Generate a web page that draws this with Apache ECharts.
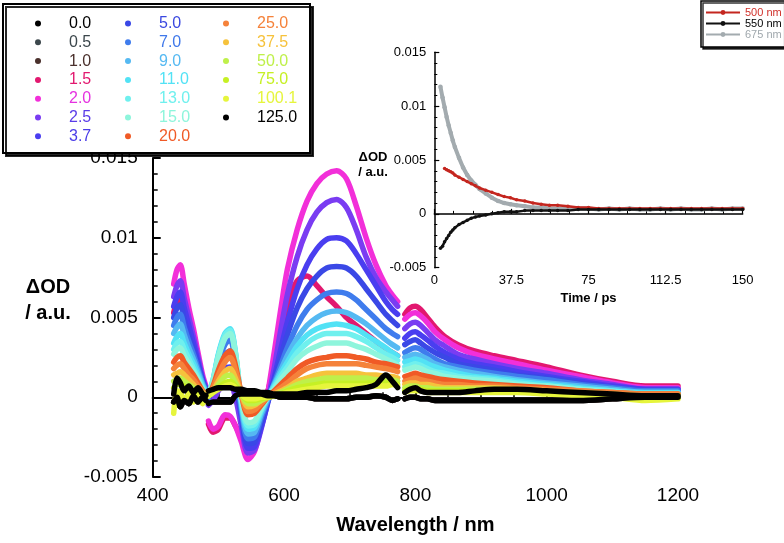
<!DOCTYPE html>
<html><head><meta charset="utf-8">
<script src="https://cdn.jsdelivr.net/npm/echarts@6/dist/echarts.min.js"></script>
<style>html,body{margin:0;padding:0;background:#fff}#c{width:784px;height:543px}</style>
</head><body><div id="c"></div>
<script>
// ---------- DATA ----------
const wavelengths = [432,437,442,448,455,462,469,476,481, 483,
  485,492,500,510,518,526,535,545,555,565,575,585,595,605,620,635,650,665,680,695,710,725,740,755,765,773, 778,
  784,792,800,808,818,830,845,865,890,920,955,1000,1050,1100,1150,1200];
const delays = ['0.0','0.5','1.0','1.5','2.0','2.5','3.7','5.0','7.0','9.0','11.0','13.0','15.0','20.0','25.0','37.5','50.0','75.0','100.1','125.0'];

const od_0_0 = [-0.0003,0.0000,-0.0006,-0.0002,-0.0004,0.0001,-0.0003,0.0000,-0.0002, null,
  -0.0004,-0.0003,-0.0003,-0.0003,-0.0003,0.0001,0.0002,0.0002,0.0002,0.0002,0.0001,0.0001,0.0000,0.0000,0.0000,0.0000,-0.0001,-0.0001,-0.0001,-0.0001,0.0000,0.0000,0.0001,0.0000,-0.0002,-0.0001, null,
  -0.0001,0.0000,0.0000,-0.0001,-0.0001,-0.0002,-0.0002,-0.0002,-0.0002,-0.0002,-0.0002,-0.0002,-0.0002,-0.0001,0.0000,0.0000];
const od_0_5 = [-0.0003,0.0000,-0.0006,-0.0002,-0.0004,0.0001,-0.0003,0.0000,-0.0002, null,
  -0.0004,-0.0003,-0.0003,-0.0003,-0.0003,0.0001,0.0002,0.0002,0.0002,0.0002,0.0001,0.0001,0.0000,0.0000,0.0000,0.0000,-0.0001,-0.0001,-0.0001,-0.0001,0.0000,0.0000,0.0001,0.0000,-0.0002,-0.0001, null,
  -0.0001,0.0000,0.0000,-0.0001,-0.0001,-0.0002,-0.0002,-0.0002,-0.0002,-0.0002,-0.0002,-0.0002,-0.0002,-0.0001,0.0000,0.0000];
const od_1_0 = [-0.0003,0.0000,-0.0006,-0.0002,-0.0004,0.0001,-0.0003,0.0000,-0.0002, null,
  -0.0004,-0.0003,-0.0003,-0.0003,-0.0003,0.0001,0.0002,0.0002,0.0002,0.0002,0.0001,0.0001,0.0000,0.0000,0.0000,0.0000,-0.0001,-0.0001,-0.0001,-0.0001,0.0000,0.0000,0.0001,0.0000,-0.0002,-0.0001, null,
  -0.0001,0.0000,0.0000,-0.0001,-0.0001,-0.0002,-0.0002,-0.0002,-0.0002,-0.0002,-0.0002,-0.0002,-0.0002,-0.0001,0.0000,0.0000];
const od_1_5 = [0.0053,0.0060,0.0062,0.0053,0.0042,0.0032,0.0021,0.0011,0.0005, null,
  -0.0017,-0.0022,-0.0020,-0.0013,-0.0013,-0.0018,-0.0025,-0.0030,-0.0025,-0.0012,0.0003,0.0020,0.0040,0.0058,0.0073,0.0076,0.0070,0.0063,0.0057,0.0050,0.0045,0.0040,0.0035,0.0030,0.0028,0.0026, null,
  0.0052,0.0056,0.0057,0.0055,0.0050,0.0044,0.0038,0.0033,0.0029,0.0026,0.0023,0.0019,0.0014,0.0010,0.0007,0.0007];
const od_2_0 = [0.0071,0.0080,0.0083,0.0071,0.0056,0.0043,0.0028,0.0014,0.0007, null,
  -0.0015,-0.0020,-0.0018,-0.0011,-0.0012,-0.0018,-0.0028,-0.0039,-0.0034,-0.0018,0.0002,0.0028,0.0055,0.0080,0.0105,0.0123,0.0134,0.0140,0.0142,0.0137,0.0120,0.0100,0.0083,0.0070,0.0064,0.0060, null,
  0.0049,0.0052,0.0053,0.0051,0.0047,0.0041,0.0036,0.0031,0.0027,0.0024,0.0021,0.0017,0.0013,0.0009,0.0006,0.0006];
const od_2_5 = [0.0063,0.0070,0.0073,0.0062,0.0050,0.0038,0.0025,0.0012,0.0006, null,
  -0.0005,-0.0002,0.0004,0.0008,0.0008,0.0000,-0.0018,-0.0035,-0.0033,-0.0020,-0.0003,0.0018,0.0042,0.0064,0.0088,0.0105,0.0116,0.0122,0.0124,0.0119,0.0105,0.0088,0.0075,0.0066,0.0061,0.0057, null,
  0.0043,0.0046,0.0047,0.0045,0.0041,0.0036,0.0032,0.0027,0.0024,0.0021,0.0018,0.0015,0.0011,0.0008,0.0005,0.0005];
const od_3_7 = [0.0057,0.0063,0.0066,0.0056,0.0045,0.0034,0.0022,0.0011,0.0005, null,
  0.0000,0.0004,0.0012,0.0018,0.0019,0.0008,-0.0012,-0.0032,-0.0031,-0.0019,-0.0004,0.0012,0.0030,0.0047,0.0068,0.0083,0.0093,0.0099,0.0100,0.0098,0.0090,0.0080,0.0070,0.0060,0.0055,0.0052, null,
  0.0037,0.0040,0.0041,0.0039,0.0036,0.0032,0.0028,0.0024,0.0021,0.0019,0.0016,0.0013,0.0010,0.0007,0.0005,0.0005];
const od_5_0 = [0.0050,0.0056,0.0058,0.0049,0.0039,0.0030,0.0020,0.0010,0.0005, null,
  0.0000,0.0006,0.0018,0.0027,0.0029,0.0016,-0.0010,-0.0029,-0.0028,-0.0016,-0.0003,0.0010,0.0025,0.0039,0.0056,0.0068,0.0076,0.0081,0.0082,0.0081,0.0076,0.0068,0.0060,0.0052,0.0048,0.0045, null,
  0.0033,0.0035,0.0036,0.0034,0.0031,0.0028,0.0025,0.0021,0.0019,0.0017,0.0014,0.0012,0.0009,0.0006,0.0004,0.0004];
const od_7_0 = [0.0045,0.0050,0.0052,0.0044,0.0035,0.0027,0.0018,0.0009,0.0004, null,
  0.0000,0.0008,0.0022,0.0033,0.0036,0.0021,-0.0008,-0.0026,-0.0025,-0.0013,-0.0002,0.0009,0.0020,0.0031,0.0045,0.0055,0.0061,0.0065,0.0066,0.0065,0.0061,0.0055,0.0049,0.0043,0.0040,0.0038, null,
  0.0028,0.0030,0.0031,0.0030,0.0027,0.0024,0.0021,0.0019,0.0017,0.0015,0.0013,0.0011,0.0008,0.0006,0.0004,0.0004];
const od_9_0 = [0.0040,0.0044,0.0046,0.0039,0.0031,0.0024,0.0016,0.0008,0.0004, null,
  0.0001,0.0010,0.0026,0.0039,0.0041,0.0026,-0.0005,-0.0023,-0.0022,-0.0011,-0.0001,0.0008,0.0017,0.0026,0.0037,0.0045,0.0050,0.0053,0.0054,0.0053,0.0050,0.0046,0.0041,0.0036,0.0033,0.0031, null,
  0.0025,0.0026,0.0027,0.0026,0.0024,0.0021,0.0019,0.0017,0.0015,0.0013,0.0011,0.0009,0.0007,0.0005,0.0003,0.0003];
const od_11_0 = [0.0034,0.0038,0.0040,0.0034,0.0027,0.0021,0.0014,0.0007,0.0003, null,
  0.0001,0.0011,0.0027,0.0040,0.0043,0.0028,-0.0003,-0.0020,-0.0019,-0.0009,0.0000,0.0007,0.0015,0.0022,0.0032,0.0039,0.0043,0.0045,0.0046,0.0045,0.0043,0.0039,0.0035,0.0031,0.0028,0.0026, null,
  0.0022,0.0023,0.0024,0.0023,0.0021,0.0019,0.0017,0.0015,0.0013,0.0012,0.0010,0.0008,0.0006,0.0004,0.0003,0.0003];
const od_13_0 = [0.0030,0.0034,0.0035,0.0030,0.0024,0.0018,0.0012,0.0006,0.0003, null,
  0.0001,0.0011,0.0026,0.0039,0.0042,0.0028,-0.0002,-0.0018,-0.0017,-0.0008,0.0000,0.0006,0.0013,0.0019,0.0028,0.0034,0.0038,0.0040,0.0040,0.0040,0.0038,0.0035,0.0031,0.0027,0.0025,0.0023, null,
  0.0019,0.0020,0.0021,0.0020,0.0018,0.0016,0.0015,0.0013,0.0012,0.0011,0.0009,0.0007,0.0005,0.0004,0.0002,0.0002];
const od_15_0 = [0.0027,0.0030,0.0031,0.0026,0.0021,0.0016,0.0011,0.0005,0.0002, null,
  0.0001,0.0010,0.0025,0.0037,0.0040,0.0027,-0.0001,-0.0016,-0.0015,-0.0007,0.0000,0.0005,0.0011,0.0016,0.0024,0.0029,0.0032,0.0034,0.0034,0.0034,0.0032,0.0030,0.0027,0.0024,0.0022,0.0020, null,
  0.0017,0.0018,0.0019,0.0018,0.0016,0.0015,0.0013,0.0012,0.0011,0.0010,0.0008,0.0007,0.0005,0.0003,0.0002,0.0002];
const od_20_0 = [0.0022,0.0025,0.0026,0.0022,0.0018,0.0014,0.0009,0.0004,0.0002, null,
  0.0001,0.0007,0.0017,0.0026,0.0029,0.0020,0.0002,-0.0011,-0.0010,-0.0005,0.0000,0.0004,0.0008,0.0012,0.0018,0.0022,0.0024,0.0025,0.0026,0.0026,0.0025,0.0024,0.0022,0.0021,0.0020,0.0019, null,
  0.0013,0.0014,0.0015,0.0014,0.0013,0.0012,0.0011,0.0010,0.0009,0.0008,0.0007,0.0006,0.0004,0.0003,0.0002,0.0002];
const od_25_0 = [0.0018,0.0020,0.0021,0.0018,0.0014,0.0011,0.0007,0.0004,0.0002, null,
  0.0001,0.0006,0.0014,0.0022,0.0025,0.0017,0.0002,-0.0009,-0.0008,-0.0004,0.0000,0.0003,0.0006,0.0009,0.0014,0.0018,0.0020,0.0021,0.0021,0.0021,0.0021,0.0020,0.0019,0.0018,0.0017,0.0016, null,
  0.0010,0.0011,0.0012,0.0011,0.0010,0.0009,0.0008,0.0008,0.0007,0.0007,0.0006,0.0005,0.0004,0.0003,0.0002,0.0002];
const od_37_5 = [0.0014,0.0015,0.0016,0.0014,0.0011,0.0008,0.0005,0.0003,0.0001, null,
  0.0001,0.0004,0.0010,0.0016,0.0018,0.0012,0.0002,-0.0006,-0.0005,-0.0002,0.0000,0.0002,0.0004,0.0006,0.0010,0.0012,0.0014,0.0015,0.0015,0.0015,0.0015,0.0014,0.0014,0.0013,0.0013,0.0012, null,
  0.0008,0.0009,0.0009,0.0008,0.0008,0.0007,0.0006,0.0006,0.0006,0.0006,0.0005,0.0004,0.0003,0.0002,0.0001,0.0001];
const od_50_0 = [0.0010,0.0011,0.0012,0.0010,0.0008,0.0006,0.0004,0.0002,0.0001, null,
  0.0001,0.0003,0.0008,0.0013,0.0014,0.0009,0.0002,-0.0004,-0.0004,-0.0002,0.0000,0.0001,0.0003,0.0005,0.0008,0.0010,0.0011,0.0012,0.0012,0.0012,0.0012,0.0012,0.0011,0.0011,0.0011,0.0010, null,
  0.0006,0.0007,0.0007,0.0006,0.0006,0.0005,0.0005,0.0005,0.0005,0.0005,0.0004,0.0003,0.0002,0.0001,0.0000,0.0001];
const od_75_0 = [0.0006,0.0008,0.0008,0.0007,0.0005,0.0004,0.0002,0.0001,0.0000, null,
  0.0001,0.0003,0.0006,0.0009,0.0010,0.0007,0.0002,-0.0002,-0.0002,-0.0001,0.0000,0.0001,0.0002,0.0004,0.0006,0.0007,0.0008,0.0009,0.0009,0.0009,0.0009,0.0009,0.0009,0.0009,0.0009,0.0008, null,
  0.0004,0.0005,0.0005,0.0005,0.0004,0.0004,0.0004,0.0004,0.0004,0.0004,0.0004,0.0003,0.0002,0.0001,-0.0001,0.0000];
const od_100_1 = [-0.0010,0.0004,0.0003,-0.0002,0.0002,-0.0003,0.0001,-0.0004,0.0000, null,
  0.0001,0.0003,0.0005,0.0007,0.0008,0.0006,0.0002,-0.0001,-0.0001,0.0000,0.0000,0.0001,0.0002,0.0003,0.0004,0.0005,0.0006,0.0007,0.0007,0.0007,0.0007,0.0007,0.0007,0.0007,0.0008,0.0007, null,
  0.0003,0.0004,0.0004,0.0004,0.0003,0.0003,0.0003,0.0003,0.0003,0.0003,0.0003,0.0002,0.0001,0.0000,-0.0002,-0.0001];
const od_125_0 = [0.0002,0.0012,0.0009,0.0004,0.0007,0.0003,0.0006,0.0002,0.0001, null,
  0.0004,0.0005,0.0006,0.0006,0.0006,0.0005,0.0005,0.0004,0.0004,0.0003,0.0003,0.0002,0.0002,0.0002,0.0002,0.0003,0.0003,0.0003,0.0004,0.0004,0.0005,0.0006,0.0008,0.0014,0.0010,0.0006, null,
  0.0003,0.0005,0.0006,0.0004,0.0003,0.0003,0.0003,0.0003,0.0004,0.0005,0.0005,0.0004,0.0003,0.0002,0.0001,0.0001];

const times = [3,4,5,6,7,8,9,10,12,14,16,18,20,22,25,28,31,34,37,40,44,48,52,56,60,65,70,75,80,85,90,95,100,105,110,115,120,125,130,135,140,145,150];
const kinNames = ['500 nm','550 nm','675 nm'];
const kin500 = [null,null,0.0042,0.0041,0.0040,0.0039,0.0038,0.0036,0.0034,0.0032,0.0030,0.0028,0.0026,0.0024,0.0022,0.0020,0.0018,0.0016,0.0015,0.0013,0.0012,0.0010,0.0009,0.0008,0.0008,0.0007,0.0006,0.0006,0.0005,0.0005,0.0005,0.0005,0.0005,0.0005,0.0005,0.0005,0.0005,0.0005,0.0005,0.0005,0.0005,0.0005,0.0005];
const kin550 = [-0.0032,-0.0030,-0.0026,-0.0023,-0.0020,-0.0017,-0.0015,-0.0013,-0.0010,-0.0008,-0.0006,-0.0004,-0.0003,-0.0002,-0.0001,0.0000,0.0001,0.0002,0.0002,0.0002,0.0003,0.0003,0.0003,0.0003,0.0003,0.0003,0.0004,0.0004,0.0004,0.0004,0.0004,0.0004,0.0004,0.0004,0.0004,0.0004,0.0004,0.0004,0.0004,0.0004,0.0004,0.0004,0.0004];
const kin675 = [0.0118,0.0108,0.0099,0.0090,0.0082,0.0075,0.0068,0.0062,0.0052,0.0043,0.0036,0.0031,0.0027,0.0023,0.0019,0.0015,0.0012,0.0010,0.0009,0.0008,0.0007,0.0006,0.0006,0.0005,0.0005,0.0005,0.0005,0.0005,0.0004,0.0005,0.0004,0.0005,0.0004,0.0004,0.0005,0.0004,0.0005,0.0004,0.0004,0.0005,0.0004,0.0005,0.0005];

const spectra = [od_0_0,od_0_5,od_1_0,od_1_5,od_2_0,od_2_5,od_3_7,od_5_0,od_7_0,od_9_0,od_11_0,od_13_0,od_15_0,od_20_0,od_25_0,od_37_5,od_50_0,od_75_0,od_100_1,od_125_0];
const kinetics = [kin500, kin550, kin675];

// ---------- STYLE ----------
const colors = ['#000000','#3c474c','#4a302c','#e2186f','#f22fd9','#7a3cf2','#4a3ef0','#3a48e6','#3f7ced','#55b9f2','#52e2f5','#6ff0ee','#8ef5dc','#f05a26','#f5823a','#f6c23c','#bff04a','#c6f024','#e6f53c','#000000'];
const textColors = ['#000000','#3c474c','#4a302c','#e2186f','#e532e0','#5a3ce8','#4a3ce8','#3a48e0','#3f78ea','#55b9f2','#52e2f5','#6ff0ee','#8ef5dc','#f05a26','#f5823a','#f6c23c','#bff04a','#c6f024','#e6f53c','#000000'];
const kinColors = ['#c4261f','#111111','#a3abaf'];
const kinTextColors = ['#d0302a','#000000','#a0a8ad'];
const FONT = '"Liberation Sans", Arial, sans-serif';

const series = [];
spectra.forEach((vals, i) => {
  const z = (i === 0 || i === 19) ? 4 : (i === 1 || i === 2 ? 1 : 2);
  series.push({
    type: 'line', name: delays[i], xAxisIndex: 0, yAxisIndex: 0,
    data: wavelengths.map((w, j) => [w, vals[j] === null ? '-' : vals[j]]),
    showSymbol: false, symbol: 'circle', smooth: 0.3, connectNulls: false,
    lineStyle: { width: 5.5, color: colors[i], cap: 'round', join: 'round' },
    itemStyle: { color: colors[i] }, z: z, animation: false, silent: true
  });
});
const kinZ = [3, 4, 2], kinW = [2.5, 2.5, 4], kinS = [3.5, 3.5, 4.5];
kinetics.forEach((vals, i) => {
  series.push({
    type: 'line', name: kinNames[i], xAxisIndex: 1, yAxisIndex: 1,
    data: times.map((t, j) => [t, vals[j] === null ? '-' : vals[j]]),
    showSymbol: true, symbol: 'circle', symbolSize: kinS[i], connectNulls: false,
    lineStyle: { width: kinW[i], color: kinColors[i] },
    itemStyle: { color: kinColors[i] }, z: kinZ[i], animation: false, silent: true
  });
});

function legendCol(idx, left) {
  return {
    data: idx.map(i => ({ name: delays[i], textStyle: { color: textColors[i] } })),
    left: left, top: 15.5, orient: 'vertical', icon: 'circle',
    itemWidth: 6, itemHeight: 6, itemGap: 2.8, selectedMode: false, z: 60, padding: 0,
    formatter: '{g| }{name}',
    textStyle: { fontSize: 16, lineHeight: 16, fontFamily: FONT, rich: { g: { width: 23, fontSize: 16, lineHeight: 16 } } }
  };
}

const axisCommon = {
  axisLine: { lineStyle: { color: '#000', width: 2 } },
  splitLine: { show: false }
};

const option = {
  animation: false,
  textStyle: { fontFamily: FONT },
  grid: [
    { left: 152.7, top: 158, right: 106, bottom: 66, containLabel: false, outerBoundsMode: 'none' },
    { left: 434.3, top: 52.3, right: 41.3, bottom: 275.3, containLabel: false, outerBoundsMode: 'none' }
  ],
  xAxis: [
    Object.assign({}, axisCommon, {
      gridIndex: 0, type: 'value', min: 400, max: 1200, interval: 200,
      axisTick: { inside: true, length: 8, lineStyle: { width: 2, color: '#000' } },
      minorTick: { show: true, splitNumber: 4, length: 5, lineStyle: { width: 1.5, color: '#000' } },
      axisLabel: { fontSize: 19, color: '#000', margin: 9, fontFamily: FONT, formatter: v => String(v) },
      name: 'Wavelength / nm', nameLocation: 'middle', nameGap: 38,
      nameTextStyle: { fontWeight: 'bold', fontSize: 20, color: '#000', fontFamily: FONT }
    }),
    Object.assign({}, axisCommon, {
      gridIndex: 1, type: 'value', min: 0, max: 150, interval: 37.5,
      axisLine: { lineStyle: { color: '#000', width: 1.5 } },
      axisTick: { inside: true, length: 5, lineStyle: { width: 1.2, color: '#000' } },
      minorTick: { show: true, splitNumber: 4, length: 3, lineStyle: { width: 1, color: '#000' } },
      axisLabel: { fontSize: 13, color: '#000', margin: 6, fontFamily: FONT, formatter: v => String(v) },
      name: 'Time / ps', nameLocation: 'middle', nameGap: 24,
      nameTextStyle: { fontWeight: 'bold', fontSize: 13, color: '#000', fontFamily: FONT }
    })
  ],
  yAxis: [
    Object.assign({}, axisCommon, {
      gridIndex: 0, type: 'value', min: -0.005, max: 0.015, interval: 0.005,
      axisTick: { inside: true, length: 8, lineStyle: { width: 2, color: '#000' } },
      minorTick: { show: true, splitNumber: 5, length: 5, lineStyle: { width: 1.5, color: '#000' } },
      axisLabel: { fontSize: 19, color: '#000', margin: 15, fontFamily: FONT }
    }),
    Object.assign({}, axisCommon, {
      gridIndex: 1, type: 'value', min: -0.005, max: 0.015, interval: 0.005,
      axisLine: { lineStyle: { color: '#000', width: 1.5 } },
      axisTick: { inside: true, length: 5, lineStyle: { width: 1.2, color: '#000' } },
      minorTick: { show: true, splitNumber: 5, length: 3, lineStyle: { width: 1, color: '#000' } },
      axisLabel: { fontSize: 13, color: '#000', margin: 8, fontFamily: FONT }
    })
  ],
  legend: [
    legendCol([0,1,2,3,4,5,6], 35),
    legendCol([7,8,9,10,11,12,13], 125),
    legendCol([14,15,16,17,18,19], 223),
    {
      data: kinNames.map((n, i) => ({ name: n, textStyle: { color: kinTextColors[i] } })),
      left: 701, top: 1, orient: 'vertical', itemWidth: 34, itemHeight: 6, itemGap: 0,
      selectedMode: false, z: 60, padding: [6, 3, 7, 4],
      backgroundColor: '#fff', borderColor: '#000', borderWidth: 1.5,
      shadowColor: 'rgba(0,0,0,0.8)', shadowOffsetX: 2, shadowOffsetY: 2, shadowBlur: 0,
      textStyle: { fontSize: 11, lineHeight: 9.5, fontFamily: FONT }
    }
  ],
  graphic: { elements: [
    { type: 'rect', z: 50, shape: { x: 3, y: 4, width: 307, height: 149 },
      style: { fill: '#fff', stroke: '#000', lineWidth: 2, shadowColor: 'rgba(0,0,0,0.85)', shadowOffsetX: 3, shadowOffsetY: 3, shadowBlur: 0 } },
    { type: 'text', z: 50, style: { text: 'ΔOD', x: 48, y: 287, align: 'center', verticalAlign: 'middle', font: 'bold 20px ' + FONT, fill: '#000' } },
    { type: 'text', z: 50, style: { text: '/ a.u.', x: 48, y: 313, align: 'center', verticalAlign: 'middle', font: 'bold 20px ' + FONT, fill: '#000' } },
    { type: 'text', z: 50, style: { text: 'ΔOD', x: 373, y: 157, align: 'center', verticalAlign: 'middle', font: 'bold 13px ' + FONT, fill: '#000' } },
    { type: 'text', z: 50, style: { text: '/ a.u.', x: 373, y: 172, align: 'center', verticalAlign: 'middle', font: 'bold 13px ' + FONT, fill: '#000' } }
  ]},
  series: series
};

const chart = echarts.init(document.getElementById('c'), null, { renderer: 'canvas' });
chart.setOption(option);
</script>
</body></html>
